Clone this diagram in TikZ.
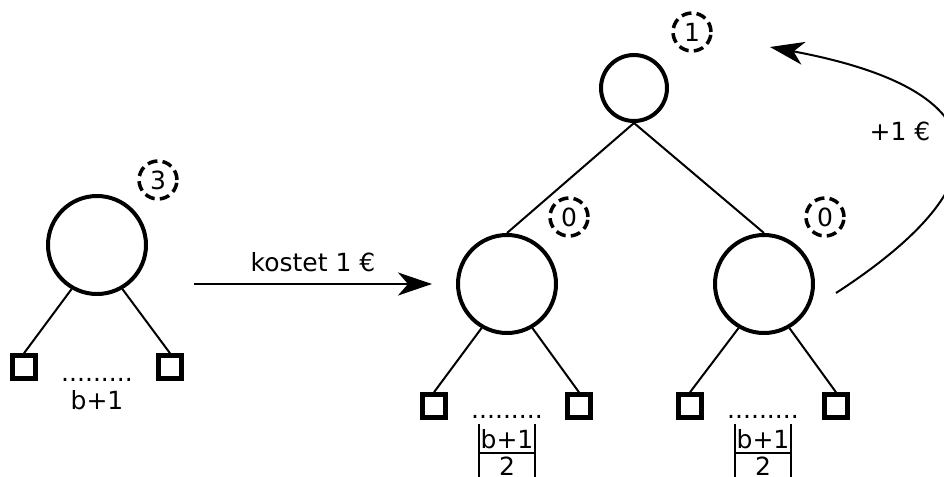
\documentclass[tikz,border=0pt]{standalone}
\usepackage{amsmath}
\usepackage{fontspec}
\setmainfont{DejaVu Sans}
\usetikzlibrary{arrows.meta}
\tikzset{
  every picture/.style={line cap=butt, >={Stealth[length=17pt,width=11.5pt,inset=5pt]}},
  every node/.style={font=\fontsize{12.5}{15}\selectfont},
  % Knoten
  knot/.style={circle, draw, line width=2pt, minimum size=49pt, inner sep=0pt},
  wurzel/.style={knot, minimum size=33pt},
  blatt/.style={rectangle, draw, line width=2.25pt, minimum size=11.5pt, inner sep=0pt},
  guthaben/.style={circle, draw, line width=1.75pt, dash pattern=on 5pt off 2.6pt,
    minimum size=19pt, inner sep=0pt},
  % Linien
  kante/.style={line width=1pt},
  pfeil/.style={->, line width=1pt},
}
% aufgerundete Haelfte der Kinderzahl
\newcommand{\halb}{{\setlength{\tabcolsep}{1pt}\setlength{\arrayrulewidth}{1pt}%
  \begin{tabular}[t]{|c|}\rule{0pt}{12pt}b+1\\[-2.5pt]\hline 2\end{tabular}}}
\begin{document}
\begin{tikzpicture}[x=0.5pt, y=-0.5pt]
  \useasboundingbox (0,0) rectangle (944,477);
  % vorher: ein Knoten mit b+1 Kindern
  \node[knot] (v) at (97,245) {};
  \node[guthaben] (gv) at (158,180) {3};
  \node[blatt] (v1) at (24,367) {};
  \node[blatt] (v2) at (170,367) {};
  \draw[kante] (v.240) -- (v1.north);
  \draw[kante] (v.300) -- (v2.north);
  \node (pv) at (97,380) {.........};
  \node (bv) at (97,400) {b+1};
  % Split
  \coordinate (p1) at (194,284);
  \coordinate (p2) at (432,284);
  \draw[pfeil] (p1) -- node[above=2pt] (kosten) {kostet 1 €} (p2);
  % nachher: zwei Knoten unter dem Elternknoten
  \node[wurzel] (r) at (634,88) {};
  \node[guthaben] (gr) at (692,32) {1};
  \node[knot] (a) at (507,284) {};
  \node[guthaben] (ga) at (569,217) {0};
  \node[knot] (b) at (764,284) {};
  \node[guthaben] (gb) at (825,217) {0};
  \draw[kante] (r.south) -- (a.north);
  \draw[kante] (r.south) -- (b.north);
  \node[blatt] (a1) at (434,406) {};
  \node[blatt] (a2) at (579,406) {};
  \node[blatt] (b1) at (690,406) {};
  \node[blatt] (b2) at (836,406) {};
  \draw[kante] (a.240) -- (a1.north);
  \draw[kante] (a.300) -- (a2.north);
  \draw[kante] (b.240) -- (b1.north);
  \draw[kante] (b.300) -- (b2.north);
  \node (pa) at (507,417) {.........};
  \node (pb) at (763,417) {.........};
  \node[anchor=base] (ha) at (507,448) {\halb};
  \node[anchor=base] (hb) at (763,448) {\halb};
  % Guthaben an den Elternknoten
  \coordinate (q1) at (836,293);
  \coordinate (q2) at (770,47);
  \draw[pfeil] (q1) .. controls (1010,180) and (1000,90) .. (q2);
  \node (plus) at (900,131) {+1 €};
\end{tikzpicture}
\end{document}
